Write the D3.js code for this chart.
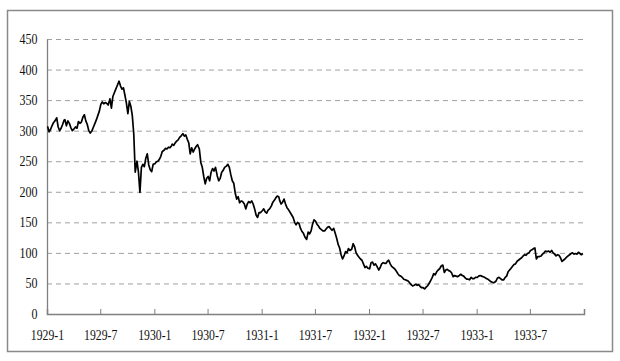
<!DOCTYPE html>
<html><head><meta charset="utf-8">
<script src="https://cdn.jsdelivr.net/npm/d3@7"></script>
<style>html,body{margin:0;padding:0;background:#fff;}</style>
</head><body>
<svg id="c" width="620" height="361"></svg>
<script>
// Sample days within each month (3rd, 8th, 13th, 18th, 23rd, 28th)
const sampleDays = [3, 8, 13, 18, 23, 28];
// Dow Jones Industrial Average, six readings per month
const dow1929 = [
  307,298,302,308,313,316,  321,306,300,304,310,317,  318,308,316,312,305,300,
  303,306,304,315,312,314,  322,326,316,310,300,296,  300,306,312,318,325,332,
  343,347,344,346,345,342,  352,337,356,362,368,374,  381,373,368,370,358,345,
  328,348,340,325,295,232,  250,232,199,240,245,241,  255,262,244,236,233,245];
const dow1930 = [
  246,249,250,253,258,266,  268,271,270,273,272,275,  278,276,280,283,285,289,
  292,295,291,293,286,280,  262,272,265,270,274,277,  270,248,240,225,213,222,
  225,218,232,238,234,240,  226,218,222,232,235,240,  242,245,240,228,218,214,
  198,188,192,182,185,184,  180,172,180,184,182,185,  180,172,162,158,166,166];
const dow1931 = [
  169,172,167,165,170,172,  177,183,186,190,193,192,  186,180,183,188,180,174,
  170,166,162,158,150,146,  150,148,140,135,132,126,  122,134,131,136,147,154,
  152,147,144,140,138,136,  136,139,142,143,140,137,  140,132,124,114,108,97,
  90,95,102,100,107,104,    106,115,110,100,96,93,    90,88,82,76,78,75];
const dow1932 = [
  74,84,85,80,82,78,  72,76,82,84,83,83,  86,88,82,78,76,74,
  70,66,63,62,60,57,  56,55,54,51,48,46,  47,49,47,48,45,43,
  43,41,44,46,50,54,  60,66,64,69,72,74,  79,80,68,72,73,71,
  70,67,61,63,62,61,  63,65,63,62,59,57,  57,56,60,58,58,60];
const dow1933 = [
  60,62,63,62,61,60,  58,57,55,53,52,51,  52,54,59,60,58,56,
  56,60,62,69,72,75,  78,81,82,86,88,90,  92,95,97,96,99,100,
  104,105,107,108,90,94,  94,95,98,100,103,102,  103,101,104,100,98,95,
  97,96,92,86,88,90,  93,95,97,99,100,98,  99,98,101,99,97,99];
const years = [1929, 1930, 1931, 1932, 1933];
const yearValues = [dow1929, dow1930, dow1931, dow1932, dow1933];
const yTicks = [0, 50, 100, 150, 200, 250, 300, 350, 400, 450];

// build the series
const data = [];
years.forEach((yr, yi) => {
  yearValues[yi].forEach((v, i) => {
    const m = Math.floor(i / 6), d = sampleDays[i % 6];
    data.push({date: new Date(yr, m, d), value: v});
  });
});

const svg = d3.select("#c");
const L = 47, R = 584, T = 39, B = 314;
const serif = "'Liberation Serif', 'Times New Roman', serif";

// outer frame
svg.append("rect").attr("x", 7.5).attr("y", 10.5).attr("width", 605).attr("height", 341)
  .attr("fill", "none").attr("stroke", "#8a8a8a").attr("stroke-width", 1.5);

const x = d3.scaleTime().domain([new Date(1929, 0, 1), new Date(1934, 0, 1)]).range([L, R]);
const y = d3.scaleLinear().domain([0, 450]).range([B, T]);

// gridlines
svg.append("g").selectAll("line").data(yTicks.filter(t => t > 0)).join("line")
  .attr("x1", L).attr("x2", R).attr("y1", d => y(d) + 0.5).attr("y2", d => y(d) + 0.5)
  .attr("stroke", "#a0a0a0").attr("stroke-width", 1).attr("stroke-dasharray", "5,4");

// y axis
const yAxis = svg.append("g").attr("transform", `translate(${L},0)`)
  .call(d3.axisLeft(y).tickValues(yTicks).tickSize(0).tickPadding(11));
yAxis.select(".domain").attr("stroke", "#808080").attr("stroke-width", 1.3);
yAxis.selectAll("text").attr("font-family", serif)
  .attr("font-size", 14).attr("fill", "#111")
  .attr("transform", "scale(0.86,1)");

// x axis
const xTicks = d3.timeMonth.every(6).range(new Date(1929, 0, 1), new Date(1934, 0, 1));
const fmt = d => d.getFullYear() + "-" + (d.getMonth() + 1);
const xAxis = svg.append("g").attr("transform", `translate(0,${B})`)
  .call(d3.axisBottom(x).tickValues(xTicks).tickFormat(fmt).tickSize(-5).tickPadding(16));
xAxis.select(".domain").attr("stroke", "#808080").attr("stroke-width", 1.5);
xAxis.selectAll(".tick line").attr("stroke", "#808080");
xAxis.selectAll("text").attr("font-family", serif)
  .attr("font-size", 14).attr("fill", "#111")
  .attr("transform", "scale(0.84,1)");

// line
const line = d3.line().x(d => x(d.date)).y(d => y(d.value));
svg.append("path").datum(data).attr("d", line)
  .attr("fill", "none").attr("stroke", "#000").attr("stroke-width", 1.7)
  .attr("stroke-linejoin", "round");
</script>
</body></html>
